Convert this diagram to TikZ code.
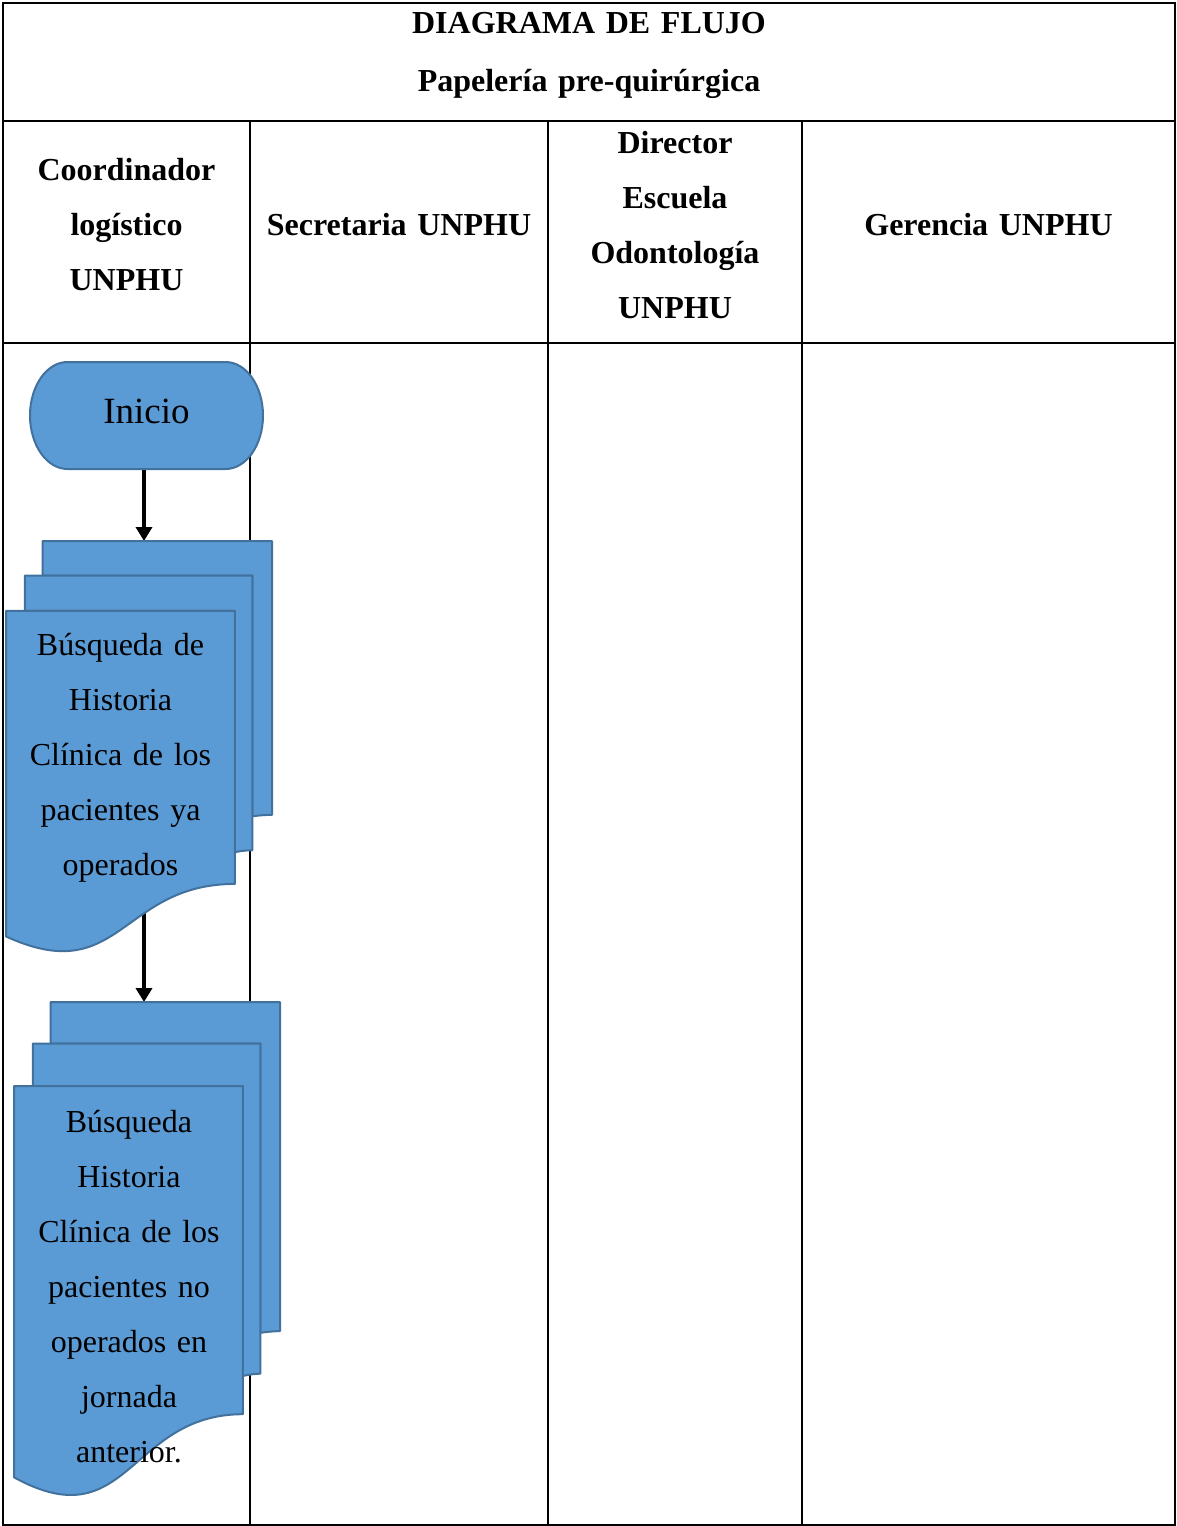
\documentclass[tikz,border=0pt]{standalone}
\usepackage{fontspec}
\setmainfont{Liberation Serif}
\usetikzlibrary{arrows.meta}
\definecolor{docfill}{HTML}{5B9BD5}
\definecolor{docline}{HTML}{41719C}
\tikzset{
  gridline/.style={line width=1.3pt, black},
  headtext/.style={font=\bfseries\fontsize{32}{55}\selectfont, align=center,
    anchor=base, inner sep=0pt, text width=245pt},
  bodytext/.style={font=\fontsize{32}{55}\selectfont, align=center,
    anchor=base, inner sep=0pt, text width=240pt},
  shapeline/.style={fill=docfill, draw=docline, line width=2pt, line join=round},
  flow/.style={line width=3.5pt, -{Triangle[length=14pt,width=16pt]}}
}
% multi-document flowchart symbol: #1,#2 = top-left corner, #3,#4 = width/216, height/216
\newcommand{\multidocshape}[4]{%
  \begin{scope}[shift={(#1,-#2)}, x=#3pt, y=-#4pt]
    \draw[shapeline] (29.72,18.15) -- (29.72,0) -- (216,0) -- (216,143.92)
      .. controls (208,143.92) and (200,144.67) .. (200,144.67) -- (200,18.15) -- cycle;
    \draw[shapeline] (15.32,36.75) -- (15.32,18.15) -- (200,18.15) -- (200,162.52)
      .. controls (192.98,162.52) and (185.95,163.52) .. (185.95,163.52) -- (185.95,36.75) -- cycle;
    \draw[shapeline] (0,207.82) .. controls (92.98,235.42) and (92.98,180.22) .. (185.95,180.22)
      -- (185.95,36.75) -- (0,36.75) -- cycle;
  \end{scope}}
\begin{document}
\begin{tikzpicture}[x=1pt, y=1pt]
  \useasboundingbox (0,0) rectangle (1176,-1526);
  \fill[white] (0,0) rectangle (1176,-1526);

  % table frame
  \draw[gridline] (3,-3) rectangle (1175,-1525);
  \draw[gridline] (3,-121) -- (1175,-121);
  \draw[gridline] (3,-343) -- (1175,-343);
  \foreach \cx in {250,548,802}
    \draw[gridline] (\cx,-121) -- (\cx,-1525);

  % title
  \node[headtext, text width=600pt] (title1) at (589,-33) {DIAGRAMA DE FLUJO};
  \node[headtext, text width=600pt] (title2) at (589,-91) {Papelería pre-quirúrgica};

  % lane headers
  \node[headtext] (lane1) at (126.5,-180) {Coordinador\\logístico\\UNPHU};
  \node[headtext, text width=290pt] (lane2) at (399,-235) {Secretaria UNPHU};
  \node[headtext] (lane3) at (675,-153) {Director\\Escuela\\Odontología\\UNPHU};
  \node[headtext, text width=360pt] (lane4) at (988.5,-235) {Gerencia UNPHU};

  % connectors (behind the symbols)
  \coordinate (inicioout) at (144,-469);
  \coordinate (doc1in) at (144,-541);
  \coordinate (doc1out) at (144,-900);
  \coordinate (doc2in) at (144,-1002);
  \draw[flow] (inicioout) -- (doc1in);
  \draw[flow] (doc1out) -- (doc2in);

  % start terminator
  \draw[shapeline] (67.5,-362) -- (225.5,-362)
    arc[start angle=90, end angle=-90, x radius=37.5, y radius=53.5]
    -- (67.5,-469)
    arc[start angle=270, end angle=90, x radius=37.5, y radius=53.5] -- cycle;
  \node[font=\fontsize{37}{40}\selectfont, anchor=base, inner sep=0pt] (inicio) at (146.5,-423) {Inicio};

  % document stacks
  \multidocshape{6}{541}{1.23148}{1.90278}
  \node[bodytext] (doc1) at (120.5,-655)
    {Búsqueda de\\Historia\\Clínica de los\\pacientes ya\\operados};

  \multidocshape{14}{1002}{1.23148}{2.28704}
  \node[bodytext] (doc2) at (129,-1132)
    {Búsqueda\\Historia\\Clínica de los\\pacientes no\\operados en\\jornada\\anterior.};
\end{tikzpicture}
\end{document}
